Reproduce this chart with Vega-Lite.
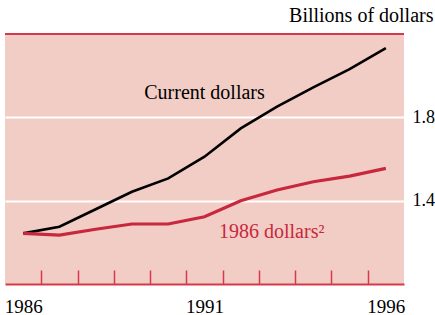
{
  "$schema": "https://vega.github.io/schema/vega-lite/v6.json",
  "width": 399,
  "height": 250,
  "autosize": "none",
  "padding": {"left": 5, "top": 34, "right": 31, "bottom": 31},
  "background": "white",
  "config": {"view": {"stroke": null, "fill": "#f2cdc5"}, "font": "Liberation Serif", "text": {"font": "Liberation Serif"}, "axis": {"labelFont": "Liberation Serif", "titleFont": "Liberation Serif"}},
  "data": {"values": [
    {"year": 1986, "series": "Current dollars", "value": 1.243},
    {"year": 1987, "series": "Current dollars", "value": 1.275},
    {"year": 1988, "series": "Current dollars", "value": 1.359},
    {"year": 1989, "series": "Current dollars", "value": 1.443},
    {"year": 1990, "series": "Current dollars", "value": 1.507},
    {"year": 1991, "series": "Current dollars", "value": 1.611},
    {"year": 1992, "series": "Current dollars", "value": 1.747},
    {"year": 1993, "series": "Current dollars", "value": 1.851},
    {"year": 1994, "series": "Current dollars", "value": 1.944},
    {"year": 1995, "series": "Current dollars", "value": 2.031},
    {"year": 1996, "series": "Current dollars", "value": 2.132},
    {"year": 1986, "series": "1986 dollars", "value": 1.243},
    {"year": 1987, "series": "1986 dollars", "value": 1.235},
    {"year": 1988, "series": "1986 dollars", "value": 1.263},
    {"year": 1989, "series": "1986 dollars", "value": 1.288},
    {"year": 1990, "series": "1986 dollars", "value": 1.288},
    {"year": 1991, "series": "1986 dollars", "value": 1.323},
    {"year": 1992, "series": "1986 dollars", "value": 1.4},
    {"year": 1993, "series": "1986 dollars", "value": 1.451},
    {"year": 1994, "series": "1986 dollars", "value": 1.491},
    {"year": 1995, "series": "1986 dollars", "value": 1.518},
    {"year": 1996, "series": "1986 dollars", "value": 1.555}
  ]},
  "layer": [
    {
      "mark": {"type": "line", "strokeJoin": "miter"},
      "encoding": {
        "x": {
          "field": "year", "type": "quantitative",
          "scale": {"domain": [1985.5, 1996.5], "nice": false, "zero": false},
          "axis": {
            "values": [1986.5, 1987.5, 1988.5, 1989.5, 1990.5, 1991.5, 1992.5, 1993.5, 1994.5, 1995.5],
            "labelExpr": "datum.value === 1986.5 ? '1986' : datum.value === 1991.5 ? '1991' : datum.value === 1995.5 ? '1996' : ''",
            "labelOffset": {"condition": {"test": "datum.value === 1995.5", "value": 18.1}, "value": -18.1},
            "tickSize": -14,
            "tickColor": "#d43a4b",
            "tickWidth": 1.5,
            "domainColor": "#d43a4b",
            "domainWidth": 2,
            "labelFlush": false,
            "labelOverlap": false,
            "labelFont": "Liberation Serif",
            "labelFontSize": 19,
            "labelColor": "black",
            "labelBaseline": "alphabetic",
            "labelPadding": 42,
            "grid": false,
            "title": null
          }
        },
        "y": {
          "field": "value", "type": "quantitative",
          "scale": {"domain": [1.0, 2.2], "nice": false, "zero": false},
          "axis": {
            "orient": "right",
            "values": [1.4, 1.8],
            "format": ".1f",
            "grid": true,
            "gridColor": "white",
            "gridWidth": 2,
            "domain": false,
            "ticks": false,
            "labelFont": "Liberation Serif",
            "labelFontSize": 18,
            "labelPadding": 8,
            "labelColor": "black",
            "labelBaseline": "middle",
            "title": "Billions of dollars",
            "titleAngle": 0,
            "titleAlign": "right",
            "titleBaseline": "alphabetic",
            "titleX": 29,
            "titleY": -13,
            "titleFontSize": 20,
            "titleFontWeight": "normal",
            "titleColor": "black",
            "titleFont": "Liberation Serif"
          }
        },
        "color": {
          "field": "series", "type": "nominal",
          "scale": {"domain": ["Current dollars", "1986 dollars"], "range": ["#000000", "#c8283d"]},
          "legend": null
        },
        "strokeWidth": {
          "field": "series", "type": "nominal",
          "scale": {"domain": ["Current dollars", "1986 dollars"], "range": [2.6, 3.2]},
          "legend": null
        }
      }
    },
    {
      "data": {"values": [{}]},
      "mark": {"type": "rule", "color": "#d43a4b", "strokeWidth": 2},
      "encoding": {"y": {"datum": 2.2}}
    },
    {
      "data": {"values": [{}]},
      "mark": {"type": "text", "text": "Current dollars", "font": "Liberation Serif", "fontSize": 20, "align": "center", "baseline": "alphabetic", "color": "black"},
      "encoding": {"x": {"datum": 1991}, "y": {"datum": 1.888}}
    },
    {
      "data": {"values": [{}]},
      "mark": {"type": "text", "text": "1986 dollars²", "font": "Liberation Serif", "fontSize": 20, "align": "left", "baseline": "alphabetic", "color": "#c8283d"},
      "encoding": {"x": {"datum": 1991.4}, "y": {"datum": 1.221}}
    }
  ]
}
